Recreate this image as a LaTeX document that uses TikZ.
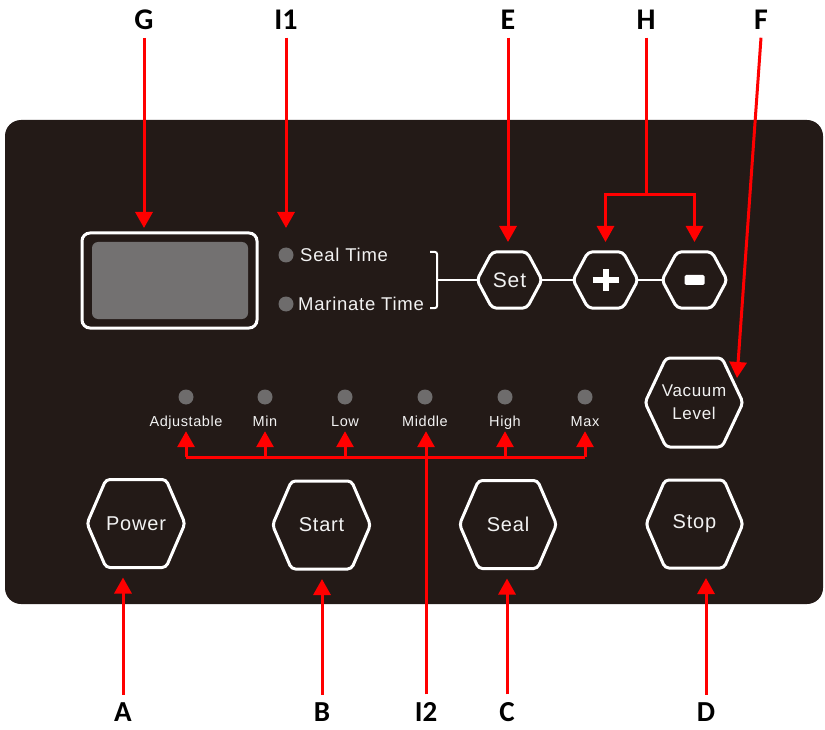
\documentclass[tikz,border=0pt]{standalone}
\usepackage{fontspec}
\setmainfont{Liberation Sans}
\newfontfamily\btnfont{Liberation Sans}[LetterSpace=4]
\newfontfamily\lblfont{Carlito}
\usetikzlibrary{arrows.meta,calc}
\definecolor{panelc}{HTML}{231A17}
\definecolor{ledc}{HTML}{6E6C6C}
\definecolor{dispc}{HTML}{737171}
\definecolor{txtc}{HTML}{F2F2F2}
\definecolor{redc}{HTML}{FF0000}
\tikzset{
  lbl/.style={inner sep=0pt, outer sep=8pt, font=\lblfont\bfseries\fontsize{30}{32}\selectfont, text=black},
  lblb/.style={lbl, font=\lblfont\bfseries\fontsize{29}{31}\selectfont},
  redline/.style={draw=redc, line width=3pt},
  redarrow/.style={draw=redc, line width=3pt, -{Triangle[width=17pt,length=16pt]}},
  hexnode/.style={inner sep=0pt, outer sep=0pt, text=txtc},
  hexline/.style={draw=white, line width=3pt, rounded corners=4pt},
  thinwhite/.style={draw=white, line width=2pt},
  led/.style={circle, fill=ledc, minimum size=15pt, inner sep=0pt},
  lvltext/.style={text=txtc, inner sep=2pt, text height=11pt, text depth=3pt, font=\btnfont\fontsize{14.5}{17}\selectfont},
  timetext/.style={text=txtc, anchor=west, inner sep=0pt, font=\btnfont\fontsize{18.5}{20}\selectfont}
}
\newcommand\hexdraw[2]{%
  \draw[hexline] (#1.west) -- ([xshift=#2]#1.north west) -- ([xshift=-#2]#1.north east)
    -- (#1.east) -- ([xshift=-#2]#1.south east) -- ([xshift=#2]#1.south west) -- cycle;}
\begin{document}
\begin{tikzpicture}[x=1pt,y=-1pt]
\useasboundingbox (0,0) rectangle (825,730);
% panel
\fill[panelc, rounded corners=16pt] (5,120) rectangle (823,604);

% display
\node[draw=white, line width=3pt, rounded corners=8pt, minimum width=175pt, minimum height=95pt, inner sep=0pt, outer sep=0pt] (display) at (169.5,280.5) {};
\fill[dispc, rounded corners=6pt] ($(display.north west)+(10,9)$) rectangle ($(display.south east)+(-9,-9)$);

% time LEDs
\node[led] (ledSeal) at (286,255) {};
\node[led] (ledMar) at (286,304) {};
\node[timetext] (tSeal) at (300,255) {Seal Time};
\node[timetext] (tMar) at (298,304) {Marinate Time};

% bracket
\coordinate (brk) at (437,280);
\draw[thinwhite, rounded corners=2pt] (430,252) -- (437,252) -- (437,308) -- (430,308);

% top small hexagons
\node[hexnode, minimum width=65pt, minimum height=56pt, font=\btnfont\fontsize{21}{22}\selectfont] (set) at (509.5,280) {Set};
\node[hexnode, minimum width=65pt, minimum height=56pt] (plus) at (605.5,280) {};
\node[hexnode, minimum width=65pt, minimum height=56pt] (minus) at (694.5,280) {};
\hexdraw{set}{15pt}
\hexdraw{plus}{15pt}
\hexdraw{minus}{15pt}
\draw[thinwhite] (brk) -- (set.west);
\draw[thinwhite] (set.east) -- (plus.west);
\draw[thinwhite] (plus.east) -- (minus.west);
\draw[white, line width=6pt] ($(plus.center)+(-13,0)$) -- ($(plus.center)+(13,0)$);
\draw[white, line width=6pt] ($(plus.center)+(0,-11)$) -- ($(plus.center)+(0,11)$);
\fill[white, rounded corners=1.5pt] ($(minus.center)+(-10,-5)$) rectangle ($(minus.center)+(10,5)$);

% vacuum level
\node[hexnode, minimum width=98pt, minimum height=89pt, align=center, font=\btnfont\fontsize{17}{23}\selectfont] (vac) at (694,402.5) {Vacuum\\Level};
\hexdraw{vac}{21pt}

% level LEDs
\foreach \nm/\x/\t in {Adj/186/Adjustable, Min/265/Min, Low/345/Low, Mid/425/Middle, High/505/High, Max/585/Max}{
  \node[led] (led\nm) at (\x,397) {};
  \node[lvltext] (lbl\nm) at (\x,422) {\t};
}

% bottom buttons
\node[hexnode, minimum width=98pt, minimum height=88pt, font=\btnfont\fontsize{20}{21}\selectfont] (power) at (136,523.5) {Power};
\node[hexnode, minimum width=98pt, minimum height=88pt, font=\btnfont\fontsize{20}{21}\selectfont] (start) at (321.5,525) {Start};
\node[hexnode, minimum width=97pt, minimum height=88pt, font=\btnfont\fontsize{20}{21}\selectfont] (seal) at (508,524.5) {Seal};
\node[hexnode, minimum width=97pt, minimum height=88pt, font=\btnfont\fontsize{20}{21}\selectfont] (stop) at (694.5,524) {Stop};
\hexdraw{power}{19pt}
\hexdraw{start}{19pt}
\hexdraw{seal}{19pt}
\hexdraw{stop}{19pt}

% labels
\node[lbl] (G) at (144,20) {G};
\node[lbl] (I1) at (286,20) {I1};
\node[lbl] (E) at (508,20) {E};
\node[lbl] (H) at (646,20) {H};
\node[lbl] (F) at (761,20) {F};
\node[lblb] (A) at (123,712) {A};
\node[lblb] (B) at (322,712) {B};
\node[lblb] (I2) at (426,712) {I2};
\node[lblb] (C) at (507,712) {C};
\node[lblb] (D) at (706,712) {D};

% top arrows
\draw[redarrow, shorten >=5pt] (G.south) -- (G.south |- display.north);
\draw[redarrow, shorten >=5pt] (I1.south) -- (I1.south |- display.north);
\draw[redarrow, shorten >=10pt] (E.south) -- (E.south |- set.north);
\coordinate (hJ) at (646,195);
\draw[redline] (H.south) -- (hJ);
\draw[redarrow, shorten >=10pt] (hJ) -| (plus.north);
\draw[redarrow, shorten >=10pt] (hJ) -| (minus.north);
\draw[redarrow] (F.south) -- ($(vac.north east)+(-6,20)$);

% level bus
\coordinate (bus) at (425,457);
\draw[redline] (ledAdj |- bus) -- (ledMax |- bus);
\foreach \nm in {Adj,Min,Low,High,Max}{
  \draw[redarrow] (led\nm |- bus) -- (led\nm |- lbl\nm.south);
}
\draw[redarrow] (I2.north) -- (I2.north |- lblMid.south);

% bottom arrows
\draw[redarrow, shorten >=10pt] (A.north) -- (A.north |- power.south);
\draw[redarrow, shorten >=10pt] (B.north) -- (B.north |- start.south);
\draw[redarrow, shorten >=10pt] (C.north) -- (C.north |- seal.south);
\draw[redarrow, shorten >=10pt] (D.north) -- (D.north |- stop.south);
\end{tikzpicture}
\end{document}
